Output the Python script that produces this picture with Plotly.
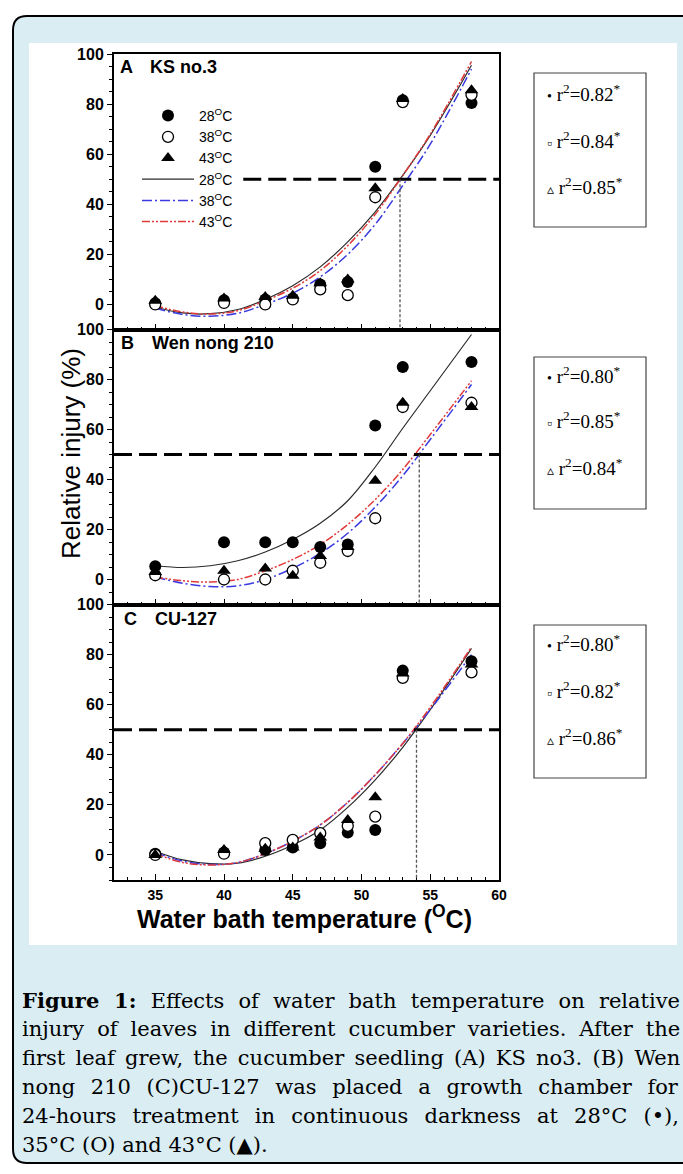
import plotly.graph_objects as go

W, H = 683, 1174

# ---------------- data ----------------
TEMPS = [35, 40, 43, 45, 47, 49, 51, 53, 58]
SERIES = ["28", "38", "43"]

A_28 = [0.5, 1.7, 2.0, 2.4, 8.0, 9.0, 55.0, 81.5, 80.4]
A_38 = [0.0, 0.6, 0.0, 2.0, 6.0, 3.7, 42.8, 80.8, 83.7]
A_43 = [1.5, 2.4, 3.0, 3.5, 8.5, 10.0, 46.4, 82.0, 85.5]

B_28 = [5.3, 14.9, 14.9, 14.9, 13.0, 14.0, 61.6, 85.0, 87.0]
B_38 = [1.7, 0.0, 0.0, 3.5, 6.7, 11.4, 24.5, 69.0, 70.7]
B_43 = [3.0, 3.5, 4.4, 1.5, 9.4, 13.0, 39.5, 70.7, 69.0]

C_28 = [0.5, 1.0, 2.0, 3.0, 4.7, 9.0, 10.0, 73.6, 77.3]
C_38 = [0.0, 0.5, 4.7, 6.0, 8.7, 11.6, 15.3, 70.7, 72.9]
C_43 = [0.0, 2.0, 2.5, 3.0, 7.0, 14.0, 23.0, 72.5, 76.0]

# fitted curves
FIT_X = [35, 37, 39, 41, 43, 45, 47, 49, 51, 53, 55, 58]
A_FIT_28 = [-1.0, -3.4, -3.7, -2.0, 2.0, 7.5, 15.0, 25.0, 37.0, 51.5, 67.5, 95.5]
A_FIT_38 = [-1.5, -4.0, -4.7, -3.5, 0.0, 4.5, 11.0, 20.0, 32.0, 47.5, 64.0, 94.0]
A_FIT_43 = [-0.5, -3.0, -3.8, -2.5, 1.5, 6.5, 13.5, 23.5, 36.0, 51.5, 68.0, 97.0]

B_FIT_28 = [5.5, 4.8, 5.5, 7.5, 11.0, 16.0, 22.5, 31.5, 45.0, 60.5, 75.5, 98.0]
B_FIT_38 = [1.0, -1.5, -2.8, -2.5, 0.0, 4.5, 10.5, 18.5, 29.0, 41.5, 56.0, 78.0]
B_FIT_43 = [1.0, -0.5, -1.0, 0.0, 3.5, 8.0, 14.0, 22.0, 32.0, 44.0, 58.0, 79.5]

C_FIT_28 = [1.5, -2.0, -3.5, -3.3, -0.5, 4.0, 10.0, 19.0, 30.0, 43.0, 58.0, 82.5]
C_FIT_38 = [1.0, -2.5, -3.8, -3.0, 0.5, 5.5, 12.0, 21.0, 32.0, 44.5, 58.0, 80.0]
C_FIT_43 = [0.5, -3.0, -4.0, -3.0, 0.5, 5.5, 12.0, 21.0, 32.0, 44.5, 59.0, 83.0]

THRESHOLD = 50
LT50 = [52.8, 54.2, 54.0]
THRESH_START_A = 41.4

R2_A = [0.82, 0.84, 0.85]
R2_B = [0.80, 0.85, 0.84]
R2_C = [0.80, 0.82, 0.86]

PANEL_LETTERS = ["A", "B", "C"]
PANEL_NAMES = ["KS no.3", "Wen nong 210", "CU-127"]
X_TICKS = [35, 40, 45, 50, 55, 60]
Y_TICKS = [0, 20, 40, 60, 80, 100]

CAPTION = [
    "<b>Figure 1:</b> Effects of water bath temperature on relative",
    "injury of leaves in different cucumber varieties. After the",
    "first leaf grew, the cucumber seedling (A) KS no3. (B) Wen",
    "nong 210 (C)CU-127 was placed a growth chamber for",
    "24-hours treatment in continuous darkness at 28°C (•),",
    "35°C (O) and 43°C (▲).",
]
# word spacing (px) used to justify each caption line
CAPTION_WORD_SPACING = [7.5, 6.3, 3.5, 9.0, 9.5, 0]

points = [[A_28, A_38, A_43], [B_28, B_38, B_43], [C_28, C_38, C_43]]
fits = [[A_FIT_28, A_FIT_38, A_FIT_43], [B_FIT_28, B_FIT_38, B_FIT_43],
        [C_FIT_28, C_FIT_38, C_FIT_43]]
r2s = [R2_A, R2_B, R2_C]

# ---------------- helpers ----------------
def px(x):
    return x / W

def py(y):
    return 1 - y / H

SANS = "Liberation Sans, Arial, sans-serif"
SERIF = "Liberation Serif, Times New Roman, serif"
CAP_SERIF = "DejaVu Serif, serif"

panel_px = [(54, 329.5), (329.5, 604.5), (604.5, 880)]
x_dom = [px(114), px(499)]

line_styles = [
    dict(color="#2b2b2b", width=1.2, dash="solid"),
    dict(color="#3a3ae0", width=1.5, dash="10px,3px,2px,3px"),
    dict(color="#e03a3a", width=1.5, dash="8px,2px,2px,2px,2px,2px"),
]
marker_styles = [
    dict(symbol="circle", size=12, color="black", line=dict(width=0)),
    dict(symbol="circle", size=11, color="white", line=dict(color="black", width=1.3)),
    dict(symbol="triangle-up", size=12, color="black", line=dict(width=0)),
]

fig = go.Figure()

for i in range(3):
    xa = "x" if i == 0 else f"x{i+1}"
    ya = "y" if i == 0 else f"y{i+1}"
    for s in range(3):
        fig.add_trace(go.Scatter(
            x=FIT_X, y=fits[i][s], mode="lines", xaxis=xa, yaxis=ya,
            line=dict(shape="spline", smoothing=1.0, **line_styles[s]),
            name=f"{SERIES[s]}<sup>O</sup>C", showlegend=(i == 0),
            legendrank=4 + s, hoverinfo="skip"))
    for s in range(3):
        fig.add_trace(go.Scatter(
            x=TEMPS, y=points[i][s], mode="markers", xaxis=xa, yaxis=ya,
            marker=marker_styles[s], name=f"{SERIES[s]}<sup>O</sup>C",
            showlegend=(i == 0), legendrank=1 + s))

layout_axes = {}
for i in range(3):
    top, bot = panel_px[i]
    xk = "xaxis" if i == 0 else f"xaxis{i+1}"
    yk = "yaxis" if i == 0 else f"yaxis{i+1}"
    ya = "y" if i == 0 else f"y{i+1}"
    xa = "x" if i == 0 else f"x{i+1}"
    layout_axes[xk] = dict(
        domain=x_dom, range=[32, 60], anchor=ya, showgrid=False, zeroline=False,
        showline=True, linecolor="black", linewidth=2, mirror=True,
        ticks="inside", ticklen=6, tickwidth=1.2, tickcolor="black",
        tickvals=X_TICKS, showticklabels=(i == 2),
        tickfont=dict(family=SANS, size=14, color="black", weight="bold"),
        ticklabelstandoff=1, automargin=False,
        minor=dict(dtick=1, ticks="inside", ticklen=3, tickcolor="black", tickwidth=1),
    )
    layout_axes[yk] = dict(
        domain=[py(bot), py(top)], range=[-10, 100], anchor=xa, showgrid=False,
        zeroline=False, showline=True, linecolor="black", linewidth=2, mirror=True,
        ticks="outside", ticklen=5, tickwidth=1.2, tickcolor="black",
        tickvals=Y_TICKS, automargin=False,
        tickfont=dict(family=SANS, size=16, color="black", weight="bold"),
        minor=dict(dtick=5, ticks="outside", ticklen=3, tickcolor="black", tickwidth=1),
    )

shapes = []
shapes.append(dict(
    type="path", xref="paper", yref="paper", layer="below",
    path=(f"M {px(720)},{py(16)} L {px(27)},{py(16)} Q {px(13)},{py(16)} {px(13)},{py(30)} "
          f"L {px(13)},{py(1149)} Q {px(13)},{py(1163)} {px(27)},{py(1163)} "
          f"L {px(720)},{py(1163)} Z"),
    fillcolor="#d9edf3", line=dict(color="black", width=2)))
shapes.append(dict(type="rect", xref="paper", yref="paper", layer="below",
                   x0=px(29), x1=px(677), y0=py(945), y1=py(43),
                   fillcolor="white", line=dict(width=0)))

annotations = []
for i in range(3):
    xa = "x" if i == 0 else f"x{i+1}"
    ya = "y" if i == 0 else f"y{i+1}"
    x0 = THRESH_START_A if i == 0 else 32
    shapes.append(dict(type="line", xref=xa, yref=ya, x0=x0, x1=60,
                       y0=THRESHOLD, y1=THRESHOLD,
                       line=dict(color="black", width=3, dash="18px,7px")))
    shapes.append(dict(type="line", xref=xa, yref=ya, x0=LT50[i], x1=LT50[i],
                       y0=THRESHOLD, y1=-10,
                       line=dict(color="#555555", width=1.3, dash="3px,2px")))

title_pos = [(67.5, 118, 148), (343, 119, 150), (619, 122, 153)]
for i in range(3):
    yc, xl, xn = title_pos[i]
    annotations.append(dict(xref="paper", yref="paper", x=px(xl), y=py(yc),
                            xanchor="left", yanchor="middle", showarrow=False,
                            text=f"<b>{PANEL_LETTERS[i]}</b>",
                            font=dict(family=SANS, size=18, color="black")))
    annotations.append(dict(xref="paper", yref="paper", x=px(xn), y=py(yc),
                            xanchor="left", yanchor="middle", showarrow=False,
                            text=f"<b>{PANEL_NAMES[i]}</b>",
                            font=dict(family=SANS, size=18, color="black")))

box_px = [(73, 227), (357, 509), (625, 778)]
row_px = [(93, 140, 186), (375, 420, 467), (643, 690, 737)]
glyphs = ["•", "▫", "▵"]
for i in range(3):
    t, b = box_px[i]
    shapes.append(dict(type="rect", xref="paper", yref="paper",
                       x0=px(534), x1=px(646), y0=py(b), y1=py(t),
                       fillcolor="white", line=dict(color="#444444", width=1.2)))
    for s in range(3):
        annotations.append(dict(
            xref="paper", yref="paper", x=px(545), y=py(row_px[i][s]),
            xanchor="left", yanchor="middle", showarrow=False,
            text=f"<span style='font-size:14px'>{glyphs[s]}</span> r<sup>2</sup>={r2s[i][s]:.2f}<sup>*</sup>",
            font=dict(family=SERIF, size=19, color="black")))

annotations.append(dict(xref="paper", yref="paper", x=px(71), y=py(454),
                        xanchor="center", yanchor="middle", showarrow=False,
                        textangle=-90, text="Relative injury (%)",
                        font=dict(family=SANS, size=26, color="black")))
annotations.append(dict(xref="paper", yref="paper", x=px(304), y=py(917),
                        xanchor="center", yanchor="middle", showarrow=False,
                        text="<b>Water bath temperature (<sup>O</sup>C)</b>",
                        font=dict(family=SANS, size=25, color="black")))

cap_y = [1000, 1029, 1058, 1087, 1116, 1145]
for k, line in enumerate(CAPTION):
    annotations.append(dict(
        xref="paper", yref="paper", x=px(20), y=py(cap_y[k]),
        xanchor="left", yanchor="middle", showarrow=False,
        text=f"<span style='word-spacing:{CAPTION_WORD_SPACING[k]}px'>{line}</span>",
        font=dict(family=CAP_SERIF, size=21, color="black")))

fig.update_layout(
    width=W, height=H, margin=dict(l=0, r=0, t=0, b=0, autoexpand=False),
    paper_bgcolor="white", plot_bgcolor="rgba(0,0,0,0)",
    shapes=shapes, annotations=annotations,
    legend=dict(x=px(137), y=py(100), xanchor="left", yanchor="top",
                bgcolor="rgba(0,0,0,0)", font=dict(family=SANS, size=14, color="black"),
                itemwidth=52, tracegroupgap=0, traceorder="normal"),
    **layout_axes,
)

fig.write_html("out.html", config={"displayModeBar": False},
               post_script="document.body.style.margin='0px';document.body.style.overflow='hidden';")
